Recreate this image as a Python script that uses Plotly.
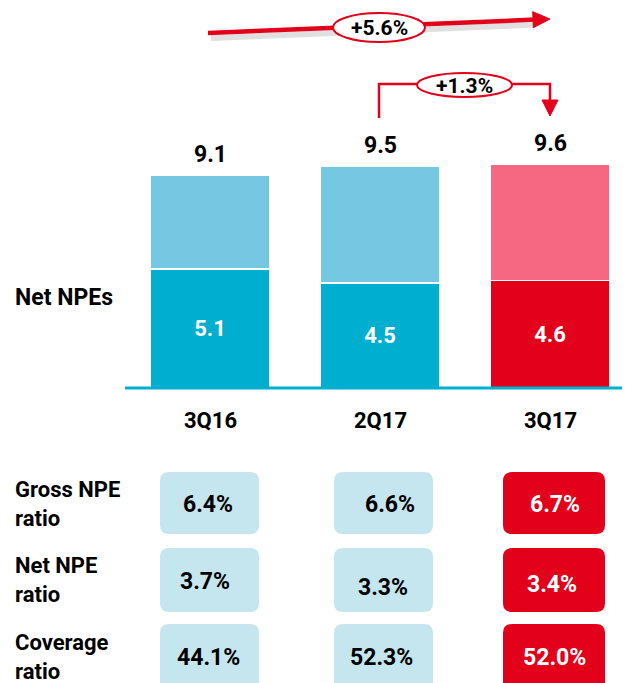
import math
import plotly.graph_objects as go

# ---------------- data ----------------
quarters = ["3Q16", "2Q17", "3Q17"]
net_npes = [5.1, 4.5, 4.6]
provision_part = [4.0, 5.0, 5.0]
gross_npes = [9.1, 9.5, 9.6]
gross_ratio = ["6.4%", "6.6%", "6.7%"]
net_ratio = ["3.7%", "3.3%", "3.4%"]
coverage_ratio = ["44.1%", "52.3%", "52.0%"]
yoy_change = "+5.6%"
qoq_change = "+1.3%"
row_labels = ["Gross NPE<br>ratio", "Net NPE<br>ratio", "Coverage<br>ratio"]

# ---------------- styles ----------------
OFF = 8            # page body margin
W, H = 630 - OFF, 683 - OFF
BLUE = "#00AECF"
LBLUE = "#76C8E2"
RED = "#E2001A"
PINK = "#F66782"
BOX_BLUE = "#C5E6EE"
FONT = "Roboto"
PX_PER_UNIT = 23.33
BASE_Y = 388       # screen pixel of the bar baseline
CAT_X0 = 210       # screen pixel of first bar centre
CAT_STEP = 170


def px(x):
    return (x - OFF) / W


def py(y):
    return 1 - (y - OFF) / H


fig = go.Figure()
fig.add_bar(
    x=quarters, y=net_npes, marker=dict(color=[BLUE, BLUE, RED], line=dict(color="white", width=1.5)),
    width=0.706, text=[f"{v:.1f}" for v in net_npes], textposition="inside",
    insidetextanchor="middle", textfont=dict(color="white", size=22, family=FONT, weight="bold"),
    hoverinfo="skip",
)
fig.add_bar(
    x=quarters, y=provision_part, marker=dict(color=[LBLUE, LBLUE, PINK], line=dict(color="white", width=1.5)),
    width=0.706, hoverinfo="skip",
)

annotations = []
shapes = []

# totals above bars
for q, t in zip(quarters, gross_npes):
    annotations.append(dict(x=q, y=t, xref="x", yref="y", text=f"<b>{t:.1f}</b>", showarrow=False,
                            xanchor="center", yanchor="middle", yshift=21,
                            font=dict(size=23, family=FONT, color="black")))
# category labels
for q in quarters:
    annotations.append(dict(x=q, y=-(420 - BASE_Y) / PX_PER_UNIT, xref="x", yref="y", text=f"<b>{q}</b>",
                            showarrow=False, xanchor="center", yanchor="middle",
                            font=dict(size=22, family=FONT, color="black")))

# baseline
shapes.append(dict(type="line", xref="paper", yref="y", x0=px(125), x1=1, y0=0, y1=0,
                   line=dict(color=BLUE, width=3)))

# Net NPEs label
annotations.append(dict(x=px(13), y=py(297), xref="paper", yref="paper", xanchor="left", yanchor="middle",
                        text="<b>Net NPEs</b>", showarrow=False, font=dict(size=23, family=FONT, color="black")))


def ppath(points, close=False):
    s = ""
    for cmd, x, y in points:
        s += f"{cmd}{px(x):.5f},{py(y):.5f} "
    return s + ("Z" if close else "")


# big arrow: shadow, shaft, head, then ellipse label on top
sx, sy, tx_, ty_ = 208, 33, 550, 19
dx, dy = tx_ - sx, ty_ - sy
L = math.hypot(dx, dy)
ux, uy = dx / L, dy / L
nx, ny = -uy, ux
head_len, head_half = 17, 8
bx, by = tx_ - head_len * ux, ty_ - head_len * uy
shapes.append(dict(type="line", xref="paper", yref="paper", x0=px(sx + 3), y0=py(sy + 5), x1=px(bx), y1=py(by + 5),
                   line=dict(color="rgba(0,0,0,0.12)", width=6)))
shapes.append(dict(type="line", xref="paper", yref="paper", x0=px(sx), y0=py(sy), x1=px(bx + 2 * ux), y1=py(by + 2 * uy),
                   line=dict(color=RED, width=4.5)))
shapes.append(dict(type="path", xref="paper", yref="paper",
                   path=ppath([("M", tx_, ty_), ("L", bx + head_half * nx, by + head_half * ny),
                               ("L", bx - head_half * nx, by - head_half * ny)], close=True),
                   fillcolor=RED, line=dict(color=RED, width=1)))
shapes.append(dict(type="circle", xref="paper", yref="paper", x0=px(333), x1=px(425), y0=py(13), y1=py(42),
                   fillcolor="white", line=dict(color=RED, width=2)))
annotations.append(dict(x=px(379), y=py(28), xref="paper", yref="paper", text=f"<b>{yoy_change}</b>",
                        xanchor="center", yanchor="middle",
                        showarrow=False, font=dict(size=21, family=FONT, color="black")))

# bracket arrow
shapes.append(dict(type="path", xref="paper", yref="paper",
                   path=ppath([("M", 379, 118), ("L", 379, 84), ("L", 550, 84), ("L", 550, 102)]),
                   line=dict(color=RED, width=2.5)))
shapes.append(dict(type="path", xref="paper", yref="paper",
                   path=ppath([("M", 542, 100), ("L", 558, 100), ("L", 550, 116)], close=True),
                   fillcolor=RED, line=dict(color=RED, width=1)))
shapes.append(dict(type="circle", xref="paper", yref="paper", x0=px(417), x1=px(512), y0=py(73), y1=py(97),
                   fillcolor="white", line=dict(color=RED, width=2)))
annotations.append(dict(x=px(464), y=py(86), xref="paper", yref="paper", text=f"<b>{qoq_change}</b>",
                        xanchor="center", yanchor="middle",
                        showarrow=False, font=dict(size=21, family=FONT, color="black")))


# table
def rrect(x0, y0, x1, y1, r):
    pts = [
        f"M{px(x0 + r):.5f},{py(y0):.5f}",
        f"L{px(x1 - r):.5f},{py(y0):.5f}",
        f"Q{px(x1):.5f},{py(y0):.5f} {px(x1):.5f},{py(y0 + r):.5f}",
        f"L{px(x1):.5f},{py(y1 - r):.5f}",
        f"Q{px(x1):.5f},{py(y1):.5f} {px(x1 - r):.5f},{py(y1):.5f}",
        f"L{px(x0 + r):.5f},{py(y1):.5f}",
        f"Q{px(x0):.5f},{py(y1):.5f} {px(x0):.5f},{py(y1 - r):.5f}",
        f"L{px(x0):.5f},{py(y0 + r):.5f}",
        f"Q{px(x0):.5f},{py(y0):.5f} {px(x0 + r):.5f},{py(y0):.5f}",
        "Z",
    ]
    return " ".join(pts)


col_x = [(160, 259), (334, 433), (503, 605)]
row_y = [(472, 534), (548, 612), (624, 700)]
row_label_y = [504, 580, 657]
text_pos = [
    [(208, 504), (390, 504), (555, 504)],
    [(205, 581), (383, 587), (552, 584)],
    [(208, 657), (381, 657), (554, 657)],
]
table = [gross_ratio, net_ratio, coverage_ratio]

for r, (vals, lab) in enumerate(zip(table, row_labels)):
    annotations.append(dict(x=px(13), y=py(row_label_y[r]), xref="paper", yref="paper", xanchor="left",
                            yanchor="middle", align="left", text=f"<b>{lab}</b>", showarrow=False,
                            font=dict(size=22, family=FONT, color="black")))
    for c, v in enumerate(vals):
        x0, x1 = col_x[c]
        y0, y1 = row_y[r]
        fill = RED if c == 2 else BOX_BLUE
        shapes.append(dict(type="path", xref="paper", yref="paper", path=rrect(x0, y0, x1, y1, 9),
                           fillcolor=fill, line=dict(width=0), layer="below"))
        tx, ty = text_pos[r][c]
        annotations.append(dict(x=px(tx), y=py(ty), xref="paper", yref="paper", text=f"<b>{v}</b>",
                                xanchor="center", yanchor="middle", showarrow=False,
                                font=dict(size=23, family=FONT, color="white" if c == 2 else "black")))

x_lo = -(CAT_X0 - OFF) / CAT_STEP
x_hi = x_lo + W / CAT_STEP
y_hi = (BASE_Y - OFF) / PX_PER_UNIT
y_lo = y_hi - H / PX_PER_UNIT

fig.update_layout(
    width=W, height=H, margin=dict(l=0, r=0, t=0, b=0),
    barmode="stack", showlegend=False,
    plot_bgcolor="white", paper_bgcolor="white",
    xaxis=dict(range=[x_lo, x_hi], visible=False, fixedrange=True),
    yaxis=dict(range=[y_lo, y_hi], visible=False, fixedrange=True),
    annotations=annotations, shapes=shapes,
)
fig.write_html("out.html", config={"displayModeBar": False})
